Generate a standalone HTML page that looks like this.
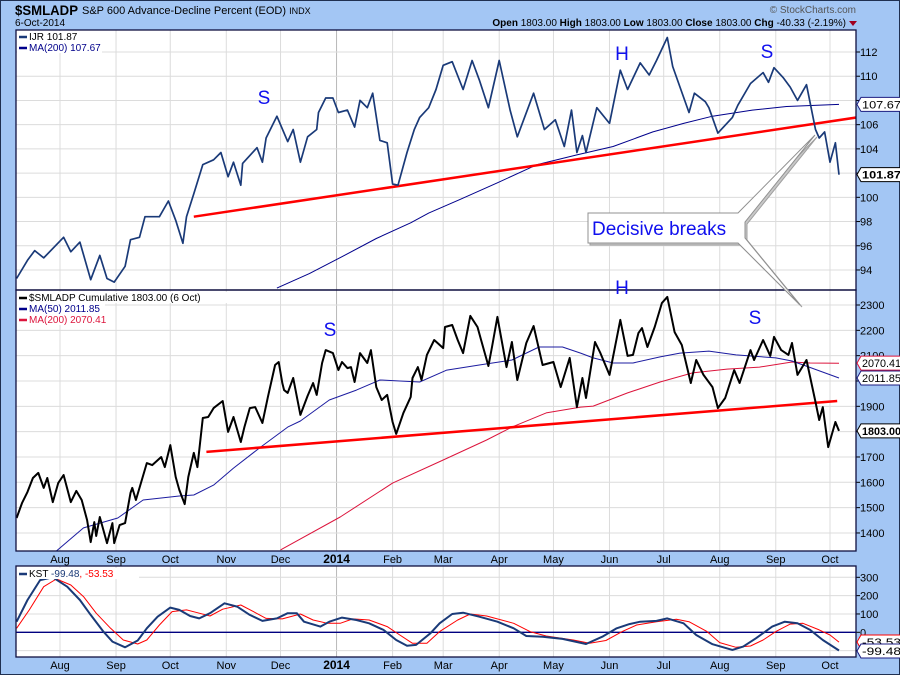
<!DOCTYPE html>
<html><head><meta charset="utf-8"><style>
html,body{margin:0;padding:0;background:#a3c6f4;}
svg{display:block;font-family:"Liberation Sans",sans-serif;}
</style></head><body>
<svg id="c" width="900" height="675" viewBox="0 0 900 675" xmlns="http://www.w3.org/2000/svg">
<rect x="0.5" y="0.5" width="899" height="674" fill="#a3c6f4" stroke="#203050"/>
<text x="15" y="15" font-size="14" font-weight="bold" fill="#000" textLength="63" lengthAdjust="spacingAndGlyphs">$SMLADP</text>
<text x="82" y="14" font-size="11" fill="#000">S&amp;P 600 Advance-Decline Percent (EOD) <tspan font-size="9">INDX</tspan></text>
<text x="15" y="26" font-size="10" fill="#000">6-Oct-2014</text>
<text x="856" y="13" font-size="10" fill="#555" text-anchor="end">© StockCharts.com</text>
<text x="846" y="26" font-size="10" fill="#000" text-anchor="end"><tspan font-weight="bold">Open</tspan> 1803.00 <tspan font-weight="bold">High</tspan> 1803.00 <tspan font-weight="bold">Low</tspan> 1803.00 <tspan font-weight="bold">Close</tspan> 1803.00 <tspan font-weight="bold">Chg</tspan> -40.33 (-2.19%)</text>
<polygon points="849,21 857,21 853,26" fill="#a00020"/>
<defs>
<clipPath id="cp1"><rect x="16" y="30" width="840" height="260"/></clipPath>
<clipPath id="cp2"><rect x="16" y="290" width="840" height="261"/></clipPath>
<clipPath id="cp3"><rect x="16" y="566" width="840" height="91"/></clipPath>
</defs>
<g id="panels"></g>
</svg>
<script>
// ---------- data ----------
// days since 1-Aug-2013
const ijrDays=[-24,-18,-14,-9,2,6,11,17,22,26,30,36,39,44,47,55,60,64,68,70,74,79,85,89,93,96,100,101,109,112,114,120,126,129,133,137,142,143,147,151,154,159,163,166,170,173,177,181,184,187,192,196,199,204,208,212,217,223,228,232,237,243,249,253,262,268,274,279,283,286,289,291,297,304,310,314,321,326,330,336,339,343,348,351,357,359,364,372,375,382,389,392,395,400,404,408,413,418,420,423,426,429,431];
const ijrValues=[93.3,94.8,95.6,95.0,96.7,95.5,96.3,93.2,95.2,93.3,93.0,94.3,96.5,96.7,98.4,98.4,99.7,98.1,96.2,98.4,100.3,102.7,103.1,103.7,101.7,102.9,101.0,102.8,104.1,102.9,104.9,106.7,104.6,105.6,102.9,105.0,105.6,107.0,108.2,108.2,107.0,107.2,105.8,108.0,107.4,108.6,104.7,104.5,101.1,101.0,103.7,105.6,106.6,107.4,108.9,110.9,111.2,108.9,111.3,109.7,107.4,111.3,107.2,105.0,108.6,105.6,106.4,104.2,107.2,103.7,105.1,103.7,107.4,106.1,110.5,108.9,111.1,110.1,111.3,113.2,110.8,109.1,107.0,108.6,107.9,107.4,105.3,106.6,107.6,109.4,110.3,109.5,110.7,109.9,109.1,108.0,109.3,105.6,104.9,105.4,102.9,104.5,101.87];
const ijrMaDays=[120,138,156,175,194,204,221,242,264,286,306,328,345,361,383,402,431];
const ijrMaValues=[92.5,93.7,95.1,96.6,97.9,98.7,99.8,101.2,102.7,103.5,104.2,105.4,106.1,106.7,107.2,107.5,107.67];
const topTrendDays=[74,441];
const topTrendValues=[98.4,106.6];
const topTicks=[94,96,98,100,102,104,106,108,110,112];

const cumDays=[-24,-21,-18,-15,-12,-9,-7,-4,-1,2,6,9,12,15,17,19,20,22,26,29,30,33,36,39,40,42,44,48,51,56,58,61,64,66,69,71,74,76,79,82,85,90,93,96,100,102,105,108,112,115,119,121,123,124,126,129,133,137,140,142,145,147,151,154,156,159,161,163,166,170,172,175,178,181,184,186,190,194,195,198,200,203,207,212,213,217,220,223,227,231,233,237,239,242,247,250,253,258,262,267,273,277,282,286,289,291,296,299,304,310,314,317,320,322,325,329,333,336,340,344,349,352,356,361,364,368,373,376,382,384,389,393,395,399,403,405,408,413,418,420,422,425,429,431];
const cumValues=[1459,1518,1562,1617,1637,1578,1617,1522,1597,1629,1522,1566,1530,1451,1364,1443,1388,1463,1360,1439,1360,1431,1439,1558,1578,1530,1578,1676,1668,1700,1660,1747,1621,1570,1514,1621,1716,1660,1854,1858,1893,1921,1799,1858,1759,1818,1893,1897,1834,1937,2063,2075,1992,1964,1953,2012,1866,1941,1992,1945,2071,2122,2110,2043,2075,2051,2055,1996,2110,2071,2122,1976,1925,1945,1838,1791,1874,1937,2012,2055,2004,2103,2162,2130,2213,2221,2162,2110,2257,2213,2162,2059,2134,2253,2055,2154,2004,2150,2217,2063,2075,1976,2091,1897,2012,1933,2154,2110,2024,2241,2099,2103,2189,2209,2134,2213,2308,2332,2193,2142,1992,2083,2024,1976,1893,1933,2043,1992,2122,2083,2162,2099,2174,2122,2103,2150,2024,2083,1917,1846,1897,1739,1838,1803];
const ma50Days=[-2,13,32,46,66,74,85,96,111,126,133,149,164,177,188,199,214,232,250,265,278,288,295,306,317,332,343,359,374,396,405,416,431];
const ma50Values=[1329,1420,1459,1530,1546,1550,1589,1656,1739,1818,1842,1925,1964,2004,2000,1996,2043,2063,2083,2134,2134,2110,2091,2071,2071,2095,2110,2118,2103,2091,2079,2051,2011.85];
const ma200Days=[122,155,184,212,236,250,269,288,295,314,332,350,369,387,405,415,431];
const ma200Values=[1333,1463,1597,1688,1767,1818,1874,1897,1901,1953,1996,2032,2047,2055,2075,2071,2070.41];
const midTrendDays=[81,430];
const midTrendValues=[1720,1921];
const midTicks=[1400,1500,1600,1700,1800,1900,2000,2100,2200,2300];

const kstDays=[-24,-18,-11,-4,4,11,17,24,29,36,43,48,54,61,66,72,77,83,91,98,105,112,120,126,131,135,144,149,156,164,171,179,186,192,197,205,210,217,223,232,242,251,258,267,278,291,300,308,315,321,330,336,345,352,361,372,378,385,394,401,408,415,422,431];
const kstValues=[58,176,285,300,249,176,95,4,-51,-82,-45,22,85,135,122,89,76,104,158,140,95,62,76,104,104,58,31,58,80,67,49,13,-42,-73,-69,-5,49,100,107,85,58,22,-20,-24,-36,-64,-24,22,45,58,62,76,49,-15,-65,-96,-78,-33,31,58,49,13,-42,-99.48];
const sigDays=[-24,-17,-9,-2,6,13,20,28,35,43,48,55,62,70,76,83,90,100,107,114,123,133,140,148,155,162,171,181,188,195,203,210,220,227,236,251,260,269,284,293,302,311,319,330,341,348,358,365,374,382,389,396,404,411,420,426,431];
const sigValues=[22,122,249,291,258,195,104,22,-42,-64,-42,40,113,122,107,89,126,149,113,76,73,100,67,49,49,73,67,31,-15,-60,-60,4,67,100,89,49,4,-20,-42,-60,-45,4,40,58,71,58,4,-56,-82,-75,-42,4,45,49,13,-15,-53.53];
const kstTicks=[300,200,100,0,-100];

const monthDays=[0,31,61,92,122,153,184,212,243,273,304,334,365,396,426];
const monthLabels=["Aug","Sep","Oct","Nov","Dec","2014","Feb","Mar","Apr","May","Jun","Jul","Aug","Sep","Oct"];

// ---------- axes ----------
const NS="http://www.w3.org/2000/svg";
const X0=16,X1=856;
function xd(d){return 60+d*1.8075;}
function yTop(v){return 52+(112-v)*12.11;}
function yMid(v){return 305+(2300-v)*0.2533;}
function yKst(v){return 632.3-v*0.1833;}
const root=document.getElementById('panels');
function el(tag,attrs,parent){const e=document.createElementNS(NS,tag);for(const k in attrs)e.setAttribute(k,attrs[k]);(parent||root).appendChild(e);return e;}
function pathFrom(days,vals,yf){return days.map((d,i)=>(i?'L':'M')+xd(d).toFixed(1)+','+yf(vals[i]).toFixed(1)).join(' ');}

const panels=[{y0:30,y1:290,clip:'cp1',name:'price-panel'},{y0:290,y1:551,clip:'cp2',name:'cumulative-panel'},{y0:566,y1:657,clip:'cp3',name:'kst-panel'}];
panels.forEach(p=>{
  const r=el('rect',{x:X0,y:p.y0,width:X1-X0,height:p.y1-p.y0,fill:'#fff'});
  
  
  monthDays.forEach((d,i)=>{
    const g=el('line',{x1:xd(d),x2:xd(d),y1:p.y0,y2:p.y1,stroke:monthLabels[i]==='2014'?'#b8b8b8':'#dcdcdc','stroke-width':1});
    
    
  });
});
function hgrid(ticks,yf,fmt,pname){
  ticks.forEach(t=>{
    const y=yf(t);
    const g=el('line',{x1:X0,x2:X1,y1:y,y2:y,stroke:'#dcdcdc','stroke-width':1});
    
    
    const tk=el('line',{x1:X1,x2:X1+4,y1:y,y2:y,stroke:'#000'});
    
    
    const tx=el('text',{x:X1+4,y:y+4,'font-size':11,fill:'#000'});
    tx.textContent=fmt(t);
    
    
  });
}
hgrid(topTicks,yTop,String,'price-y-axis');
hgrid(midTicks,yMid,String,'cumulative-y-axis');
hgrid(kstTicks,yKst,String,'kst-y-axis');
const zl=el('line',{x1:X0,x2:X1,y1:yKst(0),y2:yKst(0),stroke:'#000080','stroke-width':1.3});



function series(days,vals,yf,clip,color,w,name){
  const g=el('path',{d:pathFrom(days,vals,yf),fill:'none',stroke:color,'stroke-width':w,'stroke-linejoin':'round','clip-path':'url(#'+clip+')'});
  
  
}
series(ijrMaDays,ijrMaValues,yTop,'cp1','#00008b',1,'ijr-ma200-line');
series(topTrendDays,topTrendValues,yTop,'cp1','#ff0000',2.5,'price-trendline');
series(ijrDays,ijrValues,yTop,'cp1','#1a3a78',1.7,'ijr-price-line');
series(ma200Days,ma200Values,yMid,'cp2','#dc143c',1,'cumulative-ma200-line');
series(ma50Days,ma50Values,yMid,'cp2','#1c1ca0',1,'cumulative-ma50-line');
series(midTrendDays,midTrendValues,yMid,'cp2','#ff0000',2.5,'cumulative-trendline');
series(cumDays,cumValues,yMid,'cp2','#000',2,'cumulative-ad-line');
series(sigDays,sigValues,yKst,'cp3','#ff0000',1,'kst-signal-line');
series(kstDays,kstValues,yKst,'cp3','#1a3a78',2,'kst-line');

// panel borders
panels.forEach(p=>{
  const b=el('rect',{x:X0,y:p.y0,width:X1-X0,height:p.y1-p.y0,fill:'none',stroke:'#101040','stroke-width':1.3});
  
  
});
// month labels
[563,669].forEach((y,j)=>{
  monthDays.forEach((d,i)=>{
    const t=el('text',{x:xd(d),y:y,'font-size':monthLabels[i]==='2014'?12:11,'font-weight':monthLabels[i]==='2014'?'bold':'normal','text-anchor':'middle',fill:'#000'});
    t.textContent=monthLabels[i];
    
    
  });
});

// value tags
function tag(y,txt,color,bold,name){
  const w=40;
  const g=el('polygon',{points:`${X1+1},${y} ${X1+5},${y-7} ${X1+6+w},${y-7} ${X1+6+w},${y+7} ${X1+5},${y+7}`,fill:'#fff',stroke:color,'stroke-width':1});
  
  
  const t=el('text',{x:X1+6,y:y+4,'font-size':11,'font-weight':bold?'bold':'normal',fill:'#000',textLength:39,lengthAdjust:'spacingAndGlyphs'});
  t.textContent=txt;
  
  
}
tag(yTop(107.67),'107.67','#1c1c80',false,'ijr-ma200-value-tag');
tag(yTop(101.87),'101.87','#000',true,'ijr-last-value-tag');
tag(yMid(2070.41),'2070.41','#dc143c',false,'ma200-value-tag');
tag(yMid(2011.85),'2011.85','#1c1c80',false,'ma50-value-tag');
tag(yMid(1803),'1803.00','#000',true,'cumulative-last-value-tag');
tag(642,'-53.53','#ff0000',false,'kst-signal-value-tag');
tag(651,'-99.48','#1c1c80',false,'kst-value-tag');

// legends
function legend(x,y,items,name){
  items.forEach((it,i)=>{
    const yy=y+i*11;
    const bg=el('rect',{x:x-2,y:yy-9,width:it.w,height:11,fill:'#fff'});
    
    
    const ln=el('line',{x1:x,x2:x+8,y1:yy-3,y2:yy-3,stroke:it.c,'stroke-width':2.5});
    
    
    const t=el('text',{x:x+10,y:yy,'font-size':10,fill:it.tc||it.c});
    t.innerHTML=it.t;
    
    
  });
}
legend(19,40,[{t:'IJR 101.87',c:'#1a3a78',tc:'#000',w:85},{t:'MA(200) 107.67',c:'#00008b',w:85}],'price-legend');
legend(19,301,[{t:'$SMLADP Cumulative 1803.00 (6 Oct)',c:'#000',w:230},{t:'MA(50) 2011.85',c:'#00008b',w:88},{t:'MA(200) 2070.41',c:'#dc143c',w:88}],'cumulative-legend');
legend(19,577,[{t:'KST <tspan fill="#1a3a78">-99.48</tspan><tspan fill="#f00">, -53.53</tspan>',c:'#1a3a78',tc:'#000',w:122}],'kst-legend');

// pattern annotations
[[264,104,'S'],[622,60,'H'],[767,58,'S'],[330,336,'S'],[622,294,'H'],[755,324,'S']].forEach(a=>{
  const t=el('text',{x:a[0],y:a[1],'font-size':19,fill:'#1010ee','text-anchor':'middle'});
  t.textContent=a[2];
  
  
});
// callout
const sh=el('path',{d:'M590,215 L740,215 L817,137 L747,224 L747,240 L802,307 L740,245 L590,245 Z',fill:'#c8c8c8',stroke:'#a0a0a0'});


const co=el('path',{d:'M588,213 L738,213 L815,135 L745,222 L745,238 L800,305 L738,243 L588,243 Z',fill:'#fff',stroke:'#909090'});


const ct=el('text',{x:592,y:235,'font-size':19,fill:'#1010ee'});
ct.textContent='Decisive breaks';


</script>
</body></html>
